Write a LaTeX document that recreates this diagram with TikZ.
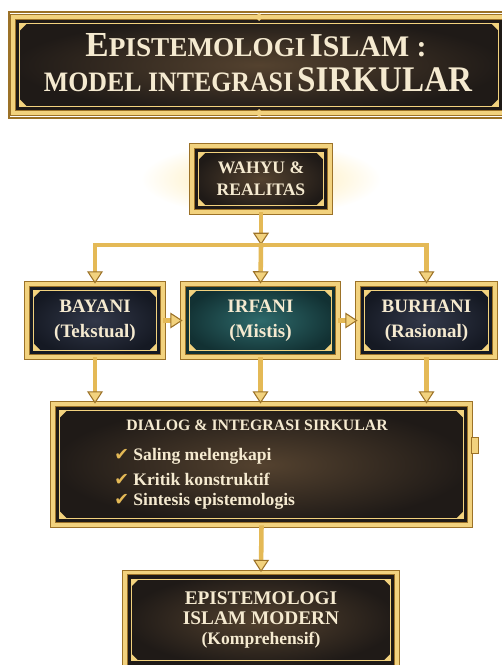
\documentclass[tikz,border=0pt]{standalone}
\usepackage{fontspec}
\setmainfont{Liberation Serif}
\newfontfamily\symfont{DejaVu Sans}
\newfontfamily\narrowfont{Liberation Serif}[FakeStretch=0.92]
\usetikzlibrary{arrows.meta}
\definecolor{goldlight}{HTML}{F2D27E}
\definecolor{goldmid}{HTML}{E4B956}
\definecolor{golddark}{HTML}{9C7228}
\definecolor{cream}{HTML}{F5EAD0}
\definecolor{brownin}{HTML}{54422F}
\definecolor{brownout}{HTML}{1F1A17}
\definecolor{navyin}{HTML}{323849}
\definecolor{navyout}{HTML}{151923}
\definecolor{tealin}{HTML}{2E6A6B}
\definecolor{tealout}{HTML}{123133}
\definecolor{glowyellow}{HTML}{FFE7A0}
\newcommand\titlesize[2]{{\fontsize{#1}{#1}\selectfont #2}}
\newcommand\checkmk{{\symfont\color{goldmid}✔}}
\tikzset{
  plaque/.style={rectangle, draw=golddark, line width=.5pt, double=goldlight, double distance=2.2pt,
    inner color=#1in, outer color=#1out, text=cream, align=center, inner sep=0pt},
  conn/.style={goldmid, line width=2.6pt, -{Triangle[width=9pt,length=7pt,line width=.6pt,color=golddark,fill=goldlight]}},
  boxtext/.style={font=\bfseries\fontsize{10.8}{14.2}\selectfont},
  itemtext/.style={text=cream, font=\bfseries\fontsize{10}{12}\selectfont, inner sep=0pt}
}
\begin{document}
\begin{tikzpicture}[x=0.02cm, y=-0.02cm]
\useasboundingbox[fill=white] (0,0) rectangle (502,665);
\shade[inner color=glowyellow, outer color=white] (261,179) ellipse (2.4cm and 0.75cm);

% title
\draw[golddark, line width=.6pt] (9,12) rectangle (512,118);
\node[plaque=brown, minimum width=9.84cm, minimum height=1.92cm] (title) at (259,65) {};
\node[anchor=base, text=cream, font=\bfseries] (tline1) at (256,57) {\titlesize{20}{E}\titlesize{15.5}{PISTEMOLOGI} \titlesize{19}{I}\titlesize{17}{SLAM :}};
\node[anchor=base, text=cream, font=\bfseries\narrowfont] (tline2) at (258,92) {\titlesize{16}{MODEL INTEGRASI} \titlesize{20.5}{SIRKULAR}};
\foreach \y in {17,113}
  \fill[goldlight] (259,\y-4) -- (263,\y) -- (259,\y+4) -- (255,\y) -- cycle;

% plaques
\node[plaque=brown, minimum width=2.76cm, minimum height=1.32cm, font=\bfseries\fontsize{10}{12.5}\selectfont] (wahyu) at (261,179) {WAHYU \&\\REALITAS};
\node[plaque=navy, minimum width=2.72cm, minimum height=1.46cm, boxtext] (bayani) at (95,320.5) {BAYANI\\(Tekstual)};
\node[plaque=teal, minimum width=3.1cm, minimum height=1.46cm, boxtext] (irfani) at (260.5,320.5) {IRFANI\\(Mistis)};
\node[plaque=navy, minimum width=2.74cm, minimum height=1.46cm, boxtext] (burhani) at (426.5,320.5) {BURHANI\\(Rasional)};
\node[plaque=brown, minimum width=8.34cm, minimum height=2.42cm] (dialog) at (261.5,464.5) {};
\node[plaque=brown, minimum width=5.44cm, minimum height=1.9cm, font=\bfseries\fontsize{11}{11.5}\selectfont] (modern) at (261,620) {EPISTEMOLOGI\\ISLAM MODERN\\{\fontsize{10}{11.5}\selectfont (Komprehensif)}};

\foreach \n in {title,wahyu,bayani,irfani,burhani,dialog,modern}{
  \draw[goldlight, line width=.5pt] ([shift={(4pt,-4pt)}]\n.north west) rectangle ([shift={(-4pt,4pt)}]\n.south east);
  \foreach \a/\sx/\sy in {north west/1/-1, north east/-1/-1, south west/1/1, south east/-1/1}
    \fill[goldlight] ([shift={({\sx*4pt},{\sy*4pt})}]\n.\a) -- +({\sx*4pt},0pt) -- +(0pt,{\sy*4pt}) -- cycle;
}
\draw[golddark, fill=goldlight, line width=.4pt] (dialog.east) ++(1,-11) rectangle ++(7,-16);

% dialog text
\node[text=cream, font=\bfseries\fontsize{9}{11}\selectfont] (dhead) at (257,425) {DIALOG \& INTEGRASI SIRKULAR};
\foreach \t [count=\i] in {Saling melengkapi, Kritik konstruktif, Sintesis epistemologis}
  \node[itemtext, anchor=west] (item\i) at (114,{434+22.5*\i}) {\checkmk\ \t};

% connectors
\coordinate (split) at (261,245);
\draw[conn] (wahyu.south) -- (split);
\draw[conn] (split) -| (bayani.north);
\draw[conn] (split) -- (irfani.north);
\draw[conn] (split) -| (burhani.north);
\draw[conn] (bayani.east) -- (irfani.west);
\draw[conn] (irfani.east) -- (burhani.west);
\foreach \n in {bayani,irfani,burhani}
  \draw[conn] (\n.south) -- (\n.south |- dialog.north);
\draw[conn] (dialog.south) -- (modern.north);
\end{tikzpicture}
\end{document}
